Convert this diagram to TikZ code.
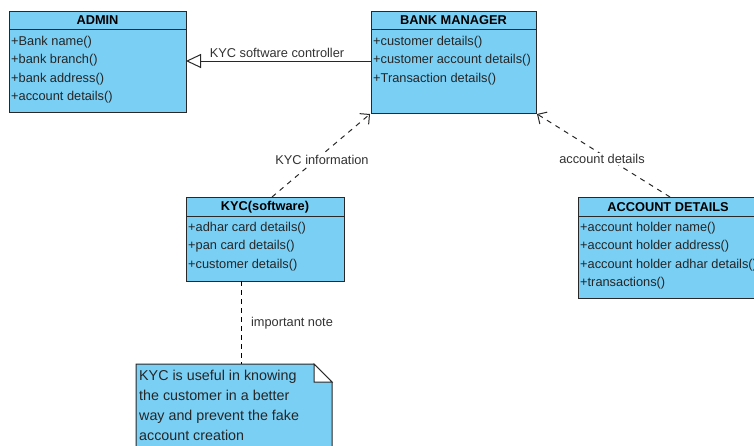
\documentclass[tikz,border=0pt]{standalone}
\usepackage{fontspec}
\setmainfont{Liberation Sans}
\usetikzlibrary{arrows.meta}
\definecolor{classfill}{RGB}{122,207,245}
\definecolor{lineclr}{RGB}{40,40,40}
\definecolor{labelclr}{RGB}{50,50,50}
\tikzset{
  classbox/.style={draw=lineclr, line width=1pt, fill=classfill, inner sep=0pt, anchor=north west},
  ctitle/.style={font=\fontsize{12.8}{14}\selectfont\bfseries, text=black, inner sep=0pt},
  member/.style={font=\fontsize{12.8}{14}\selectfont, text=black!85, inner sep=0pt, anchor=west},
  linklabel/.style={font=\fontsize{12.8}{14}\selectfont, text=labelclr, inner sep=0pt},
  realize/.style={draw=lineclr, line width=1pt, -{Triangle[open, length=15pt, width=14pt]}},
  depend/.style={draw=lineclr, line width=1pt, dash pattern=on 5pt off 5pt, -{Straight Barb[length=7pt, width=14pt]}},
  notelink/.style={draw=black, line width=1pt, dash pattern=on 5pt off 4pt},
}
\begin{document}
\begin{tikzpicture}[x=1pt, y=-1pt]
\useasboundingbox (0,0) rectangle (754,445);
\begin{scope}
\clip (0,0) rectangle (754,445);

% ADMIN class
\node[classbox, minimum width=177pt, minimum height=101pt] (admin) at (9,11) {};
\draw[lineclr, line width=1pt] (9,29) -- (186,29);
\node[ctitle] at (97.5,20) {ADMIN};
\node[member] at (11,42) {+Bank name()};
\node[member] at (11,60.5) {+bank branch()};
\node[member] at (11,79) {+bank address()};
\node[member] at (11,97.5) {+account details()};

% BANK MANAGER class
\node[classbox, minimum width=165pt, minimum height=102pt] (bank) at (371,11) {};
\draw[lineclr, line width=1pt] (371,29) -- (536,29);
\node[ctitle] at (453.5,20) {BANK MANAGER};
\node[member] at (373,42) {+customer details()};
\node[member] at (373,60.5) {+customer account details()};
\node[member] at (373,79) {+Transaction details()};

% KYC(software) class
\node[classbox, minimum width=158pt, minimum height=84pt] (kyc) at (186,197) {};
\draw[lineclr, line width=1pt] (186,216) -- (344,216);
\node[ctitle] at (265,207) {KYC(software)};
\node[member] at (188,228) {+adhar card details()};
\node[member] at (188,246.5) {+pan card details()};
\node[member] at (188,265) {+customer details()};

% ACCOUNT DETAILS class (runs past the right edge)
\node[classbox, minimum width=190pt, minimum height=101pt] (acct) at (578,197) {};
\draw[lineclr, line width=1pt] (578,216) -- (768,216);
\node[ctitle] at (668,207) {ACCOUNT DETAILS};
\node[member] at (580,228) {+account holder name()};
\node[member] at (580,246.5) {+account holder address()};
\node[member] at (580,265) {+account holder adhar details()};
\node[member] at (580,283.5) {+transactions()};

% Note with folded corner
\coordinate (notetop) at (241,364);
\draw[lineclr, line width=1pt, fill=classfill] (136,364) -- (314,364) -- (332,382) -- (332,452) -- (136,452) -- cycle;
\draw[lineclr, line width=1pt, fill=white] (314,364) -- (314,382) -- (332,382) -- cycle;
\node[font=\fontsize{14.3}{20}\selectfont, text=black!85, inner sep=0pt, anchor=north west, align=left] (note) at (139,370)
  {KYC is useful in knowing\\the customer in a better\\way and prevent the fake\\account creation};

% Connectors
\coordinate (bankleft) at (371,61);
\coordinate (adminright) at (186,61);
\draw[realize] (bankleft) -- (adminright);
\node[linklabel] at (277,53) {KYC software controller};

\coordinate (kyctop) at (272,197);
\coordinate (bankbl) at (370,114);
\draw[depend] (kyctop) -- (bankbl);
\node[linklabel, fill=white, inner sep=1pt] at (322,160) {KYC information};

\coordinate (accttop) at (670,197);
\coordinate (bankbr) at (537,114);
\draw[depend] (accttop) -- (bankbr);
\node[linklabel, fill=white, inner sep=1pt] at (602,159) {account details};

\coordinate (kycbottom) at (241,281);
\draw[notelink] (kycbottom) -- (notetop);
\node[linklabel] at (292,323) {important note};
\end{scope}
\end{tikzpicture}
\end{document}
